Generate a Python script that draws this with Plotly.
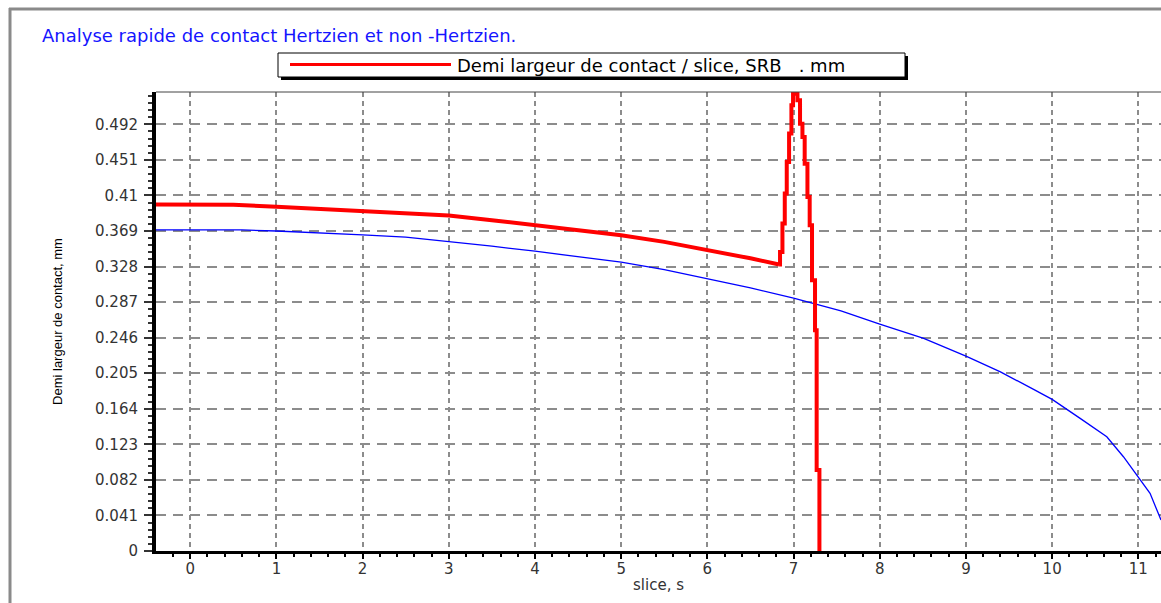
import plotly.graph_objects as go

# ---------------- data ----------------
x_ticks = list(range(0, 12))
y_tickvals = [0.041 * i for i in range(13)]
y_ticktext = ["0", "0.041", "0.082", "0.123", "0.164", "0.205", "0.246", "0.287",
              "0.328", "0.369", "0.41", "0.451", "0.492"]

# red series: smooth decreasing part, then stepped peak (sampled slices)
red_x = [-0.397, 0.5, 1.0, 1.5, 2.0, 2.5, 3.0, 3.5, 4.0, 4.5, 5.0, 5.5, 6.0, 6.5, 6.832,
         6.843, 6.871, 6.898, 6.921, 6.948, 6.975, 6.994, 7.025, 7.045, 7.075, 7.103,
         7.129, 7.161, 7.187, 7.214, 7.249, 7.268, 7.300]
red_y = [0.3995, 0.3992, 0.397, 0.3945, 0.3925, 0.3905, 0.387, 0.3815, 0.376, 0.370,
         0.364, 0.3565, 0.3475, 0.3375, 0.3304,
         0.3449, 0.3776, 0.4122, 0.4486, 0.4813, 0.5139, 0.545, 0.5274, 0.5197, 0.4928,
         0.4774, 0.4467, 0.4083, 0.3757, 0.3123, 0.2547, 0.0933, 0.0]
red_min_index = 14  # start of the stepped peak

blue_x = [-0.397, 0.6, 1.0, 1.5, 2.0, 2.5, 3.0, 3.5, 4.0, 4.5, 5.0, 5.5, 6.0, 6.5, 7.0,
          7.25, 7.55, 8.0, 8.51, 9.0, 9.4, 9.785, 10.0, 10.325, 10.634, 10.827, 11.0,
          11.136, 11.263]
blue_y = [0.3703, 0.3703, 0.369, 0.367, 0.3646, 0.362, 0.357, 0.3515, 0.3457, 0.339,
          0.333, 0.3245, 0.3138, 0.3034, 0.2915, 0.285, 0.2769, 0.2616, 0.2451, 0.2247,
          0.2066, 0.1863, 0.1748, 0.1529, 0.1317, 0.1087, 0.0856, 0.0665, 0.0357]

title_text = "Analyse rapide de contact Hertzien et non -Hertzien."
legend_text = "Demi largeur de contact / slice, SRB\u00a0\u00a0 . mm"
x_title = "slice, s"
y_title = "Demi largeur de contact, mm"

# ---------------- layout geometry ----------------
W, H = 1161, 603
ML, MR, MT, MB = 156, 0, 92, 52
PW, PH = W - ML - MR, H - MT - MB


def px(x):
    return (x - ML) / PW


def py(y):
    return (H - MB - y) / PH


fig = go.Figure()
fig.add_trace(go.Scatter(x=blue_x, y=blue_y, mode="lines",
                         line=dict(color="#0000ff", width=1.3), showlegend=False,
                         name="Hertz"))
fig.add_trace(go.Scatter(x=red_x[:red_min_index + 1], y=red_y[:red_min_index + 1],
                         mode="lines", line=dict(color="#ff0000", width=4),
                         showlegend=False, name=legend_text))
fig.add_trace(go.Scatter(x=red_x[red_min_index:], y=red_y[red_min_index:], mode="lines",
                         line_shape="hv", line=dict(color="#ff0000", width=4),
                         showlegend=False, name=legend_text))

tick_font = dict(family="DejaVu Sans", size=15, color="#333333")

fig.update_xaxes(range=[-0.397, 11.263], tickvals=x_ticks, ticks="outside", ticklen=5,
                 tickwidth=1.5, tickcolor="black", showline=True, linecolor="black",
                 linewidth=2.5, showgrid=True, gridcolor="#8c8c8c", gridwidth=1.5,
                 griddash="5px,4px", zeroline=False, tickfont=tick_font,
                 ticklabelstandoff=-3,
                 minor=dict(dtick=0.2, tick0=0, ticks="outside", ticklen=3,
                            tickcolor="black", showgrid=False),
                 title=dict(text=x_title, font=dict(family="DejaVu Sans", size=15,
                                                    color="#333333"), standoff=3))
fig.update_yaxes(range=[0, 0.5293], tickvals=y_tickvals, ticktext=y_ticktext,
                 ticks="outside", ticklen=8, tickwidth=1.5, tickcolor="#333333",
                 showline=True, linecolor="black", linewidth=4, showgrid=True,
                 gridcolor="#8c8c8c", gridwidth=1.5, griddash="10px,7px", zeroline=False,
                 tickfont=tick_font, ticklabelstandoff=3,
                 minor=dict(dtick=0.0082, tick0=0, ticks="outside", ticklen=4,
                            tickcolor="#333333", showgrid=False),
                 title=dict(text=y_title, font=dict(family="Liberation Sans", size=13,
                                                    color="black"), standoff=30))

shapes = [
    # outer window frame
    dict(type="line", xref="paper", yref="paper", x0=px(9), x1=px(W + 5), y0=py(9),
         y1=py(9), line=dict(color="#8a8a8a", width=3)),
    dict(type="line", xref="paper", yref="paper", x0=px(10), x1=px(10), y0=py(8),
         y1=py(H + 5), line=dict(color="#8a8a8a", width=3)),
    # top border of plot area
    dict(type="line", xref="paper", yref="paper", x0=0, x1=1, y0=1, y1=1,
         line=dict(color="#444444", width=1)),
    # legend shadow + box
    dict(type="rect", xref="paper", yref="paper", x0=px(281), x1=px(908), y0=py(80),
         y1=py(56), fillcolor="black", line=dict(width=0)),
    dict(type="rect", xref="paper", yref="paper", x0=px(278), x1=px(905), y0=py(77),
         y1=py(53), fillcolor="white", line=dict(color="black", width=1)),
    dict(type="line", xref="paper", yref="paper", x0=px(290), x1=px(451), y0=py(64.5),
         y1=py(64.5), line=dict(color="#ff0000", width=3)),
]

annotations = [
    dict(text=title_text, xref="paper", yref="paper", x=px(40), y=py(35),
         xanchor="left", yanchor="middle", showarrow=False,
         font=dict(family="DejaVu Sans", size=18, color="#1515ff")),
    dict(text=legend_text, xref="paper", yref="paper", x=px(455), y=py(65),
         xanchor="left", yanchor="middle", showarrow=False,
         font=dict(family="DejaVu Sans", size=18, color="black")),
]

fig.update_layout(width=W, height=H, margin=dict(l=ML, r=MR, t=MT, b=MB),
                  paper_bgcolor="white", plot_bgcolor="white", shapes=shapes,
                  annotations=annotations, showlegend=False)

fig.write_html("out.html", config={"displayModeBar": False},
               post_script="document.body.style.margin='0';"
                           "document.body.style.overflow='hidden';")
